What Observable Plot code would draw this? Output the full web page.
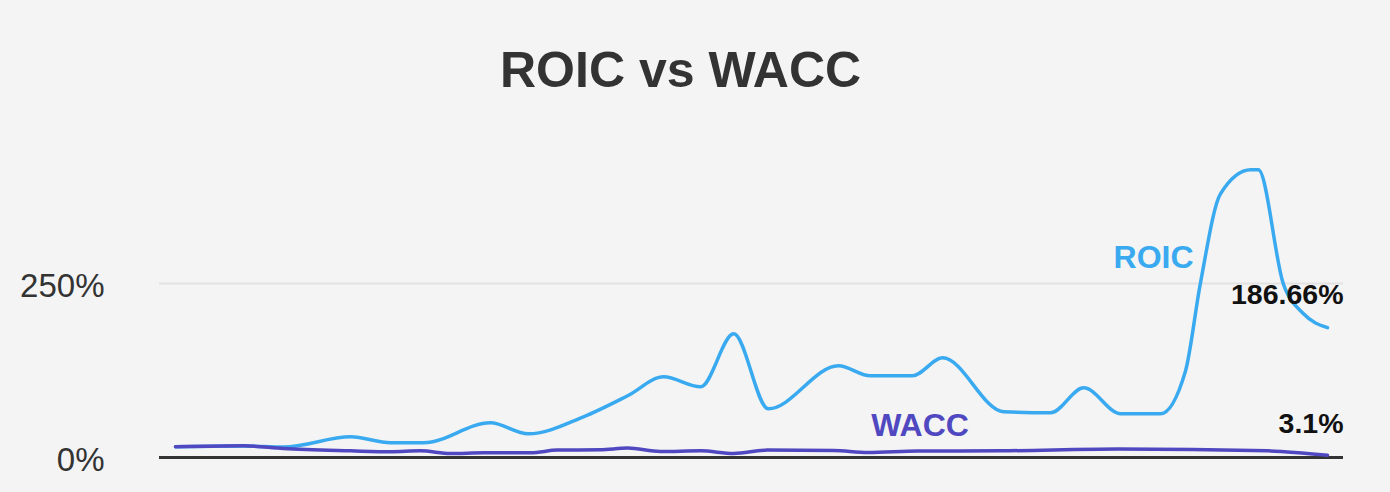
<!DOCTYPE html>
<html>
<head>
<meta charset="utf-8">
<script src="https://cdn.jsdelivr.net/npm/d3@7"></script>
<script src="https://cdn.jsdelivr.net/npm/@observablehq/plot@0.6"></script>
<style>
  html, body { margin: 0; padding: 0; background: #f4f4f4; }
  body { width: 1390px; height: 492px; overflow: hidden; font-family: "Liberation Sans", Arial, Helvetica, sans-serif; }
  #title { height: 120px; box-sizing: border-box; padding-top: 40px; padding-left: 500px; line-height: 60px; font-size: 50px; font-weight: bold; color: #333; white-space: nowrap; }
  #chart svg { display: block; }
</style>
</head>
<body>
<div id="title">ROIC vs WACC</div>
<div id="chart"></div>
<script>
// ---- data ----
const roicYears = [2000, 2001.42, 2002.25, 2003.65, 2004.48, 2005.17, 2006.56, 2007.35, 2008.5, 2009.42,
  2010.17, 2010.94, 2011.63, 2012.35, 2013.81, 2014.48, 2015.35, 2015.98, 2017.25, 2018.23,
  2018.92, 2019.69, 2020.52, 2021.04, 2021.35, 2021.77, 2022.4, 2022.56, 2023.08, 2023.5, 2024];
const roicValues = [15.4, 16.5, 15.0, 29.7, 21.1, 21.1, 49.9, 34.1, 58.5, 88.7,
  116, 101.6, 177.7, 70, 131.8, 117.4, 117.4, 143.2, 65.7, 64.2,
  100.1, 62.8, 62.8, 124, 249.6, 378.9, 413.4, 413.4, 249.6, 206.5, 186.66];

const waccYears = [2000, 2001.42, 2002.25, 2003.65, 2004.48, 2005.1, 2005.73, 2006.42, 2007.4, 2007.96,
  2008.85, 2009.42, 2010.1, 2010.94, 2011.63, 2012.33, 2013.71, 2014.42, 2015.46, 2017.19,
  2019.63, 2022.75, 2024];
const waccValues = [15.4, 16.8, 12.9, 9.6, 8.2, 9.6, 5.7, 6.8, 6.8, 10.6,
  11.1, 13.5, 8.6, 9.6, 5.7, 10.6, 10.1, 7.2, 9.2, 9.6,
  12.1, 9.6, 3.1];

const yTicks = [0, 250];
const seriesNames = ["ROIC", "WACC"];

// ---- build tables ----
const roic = roicYears.map((t, i) => ({t, v: roicValues[i]}));
const wacc = waccYears.map((t, i) => ({t, v: waccValues[i]}));
const roicColor = "#3aaaf0";
const waccColor = "#5048c0";
const fmt = v => (Math.round(v * 100) / 100) + "%";

const chart = Plot.plot({
  width: 1390,
  height: 372,
  marginLeft: 159,
  marginRight: 47,
  marginTop: 3,
  marginBottom: 35,
  x: {domain: [2000, 2024], insetLeft: 16, insetRight: 16, axis: null},
  y: {domain: [0, 480], axis: null},
  style: {background: "#f4f4f4", fontFamily: "'Liberation Sans', Arial, Helvetica, sans-serif", overflow: "visible"},
  marks: [
    Plot.ruleY([250], {stroke: "#e2e2e2", strokeWidth: 2}),
    Plot.text(yTicks, {y: d => d, frameAnchor: "left", dx: -55, dy: 3, text: d => d + "%", textAnchor: "end", fontSize: 33, fill: "#333"}),
    Plot.ruleY([0], {stroke: "#333", strokeWidth: 3}),
    Plot.line(roic, {x: "t", y: "v", stroke: roicColor, strokeWidth: 3.5, curve: "monotone-x"}),
    Plot.line(wacc, {x: "t", y: "v", stroke: waccColor, strokeWidth: 3.5, curve: "monotone-x"}),
    Plot.text([seriesNames[0]], {x: 2021.21, y: 272.6, text: d => d, textAnchor: "end", lineAnchor: "bottom", fontSize: 32, fontWeight: "bold", fill: roicColor}),
    Plot.text([seriesNames[1]], {x: 2016.53, y: 31.6, text: d => d, textAnchor: "end", lineAnchor: "bottom", fontSize: 32, fontWeight: "bold", fill: waccColor}),
    Plot.text([roic[roic.length - 1]], {x: "t", y: "v", text: d => fmt(d.v), dx: 16, dy: -24, textAnchor: "end", lineAnchor: "bottom", fontSize: 28.5, fontWeight: "bold", fill: "#111"}),
    Plot.text([wacc[wacc.length - 1]], {x: "t", y: "v", text: d => fmt(d.v), dx: 16, dy: -22, textAnchor: "end", lineAnchor: "bottom", fontSize: 28.5, fontWeight: "bold", fill: "#111"})
  ]
});
document.getElementById("chart").appendChild(chart);
</script>
</body>
</html>
